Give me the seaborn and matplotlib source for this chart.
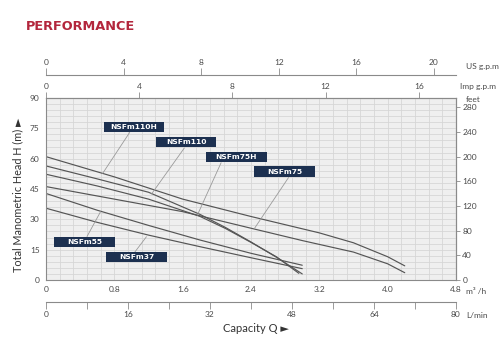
import numpy as np
import pandas as pd
import seaborn as sns
import matplotlib.pyplot as plt
from matplotlib.patches import Rectangle

# pump curves: capacity in m3/h, head in m
q_110h = [0, 0.8, 1.6, 2.4, 3.2, 3.6, 4.0, 4.2]
h_110h = [61, 51, 40, 31.4, 23.3, 18.4, 11.5, 7.0]

q_110 = [0, 0.6, 1.2, 1.8, 2.1, 2.4, 2.7, 3.0]
h_110 = [56.4, 50.0, 43.4, 32.5, 26.0, 18.8, 11.2, 3.0]

q_75h = [0, 0.6, 1.2, 1.8, 2.1, 2.4, 2.7, 2.96]
h_75h = [52.3, 46.5, 40.0, 31.5, 25.5, 18.6, 11.4, 3.3]

q_75 = [0, 0.8, 1.6, 2.4, 3.0, 3.6, 4.0, 4.2]
h_75 = [46.2, 40.0, 33.8, 25.6, 19.5, 13.8, 8.0, 3.6]

q_55 = [0, 0.6, 1.2, 1.8, 2.4, 3.0]
h_55 = [42.8, 34.5, 27.0, 19.8, 13.2, 7.3]

q_37 = [0, 0.6, 1.2, 1.8, 2.4, 3.0]
h_37 = [35.5, 28.5, 22.2, 16.5, 11.0, 5.6]

models = ['NSFm110H', 'NSFm110', 'NSFm75H', 'NSFm75', 'NSFm55', 'NSFm37']
curves_q = [q_110h, q_110, q_75h, q_75, q_55, q_37]
curves_h = [h_110h, h_110, h_75h, h_75, h_55, h_37]

# label box centres and pointer (box end -> curve point)
label_pos = [(1.03, 75.7), (1.64, 68.2), (2.23, 60.8), (2.79, 53.6), (0.45, 18.8), (1.06, 11.4)]
pointer_from = [(0.98, 73.0), (1.62, 65.3), (2.05, 58.0), (2.84, 50.7), (0.48, 21.5), (1.00, 11.6)]
pointer_to = [(0.663, 52.7), (1.235, 42.5), (1.772, 32.1), (2.442, 25.6), (0.639, 33.8), (1.176, 21.4)]

m3h_ticks = [0, 0.8, 1.6, 2.4, 3.2, 4.0, 4.8]
m3h_labels = ['0', '0.8', '1.6', '2.4', '3.2', '4.0', '4.8']
head_ticks = [0, 15, 30, 45, 60, 75, 90]
feet_ticks = [0, 40, 80, 120, 160, 200, 240, 280]
imp_ticks = [0, 4, 8, 12, 16]
us_ticks = [0, 4, 8, 12, 16, 20]
lmin_ticks = [0, 16, 32, 48, 64, 80]

IMP = 3.6662   # imp gpm per m3/h
US = 4.4029    # us gpm per m3/h
LMIN = 16.6667 # l/min per m3/h
FT = 3.28084

sns.set_style('white')
plt.rcParams['font.family'] = ['Lato', 'DejaVu Sans']

txt = '#4a4a4a'
line_c = '#555555'
axis_c = '#8a8a8a'
navy = '#1c3050'

fig = plt.figure(figsize=(5, 3.56), dpi=100)
ax = fig.add_axes([0.092, 0.2135, 0.82, 0.5112])
ax.set_facecolor('#efefef')

rows = []
for name, qs, hs in zip(models, curves_q, curves_h):
    for a, b in zip(qs, hs):
        rows.append((name, a, b))
df = pd.DataFrame(rows, columns=['model', 'q', 'h'])
for name in models:
    sub = df[df.model == name]
    sns.lineplot(data=sub, x='q', y='h', ax=ax, color=line_c, lw=0.85,
                 sort=False, estimator=None)

ax.set_xlim(0, 4.8)
ax.set_ylim(0, 90)

# grid
ax.set_xticks(np.arange(0, 4.81, 0.16), minor=True)
ax.set_yticks(np.arange(0, 90.1, 3), minor=True)
ax.grid(which='both', color='#d6d6d6', lw=0.6)
ax.set_axisbelow(True)
ax.tick_params(which='minor', length=0)

ax.set_xticks(m3h_ticks)
ax.set_xticklabels(m3h_labels)
ax.set_yticks(head_ticks)
ax.tick_params(which='major', labelsize=6, colors=axis_c, labelcolor=txt,
               length=3, width=0.6, pad=1.5)
ax.set_xlabel('')
ax.set_ylabel('')
for s in ax.spines.values():
    s.set_color(axis_c)
    s.set_linewidth(0.8)

# right: feet
ax_ft = ax.secondary_yaxis('right', functions=(lambda m: m * FT, lambda f: f / FT))
ax_ft.set_yticks(feet_ticks)
ax_ft.tick_params(labelsize=6, colors=axis_c, labelcolor=txt, length=3, width=0.6, pad=1.5)
ax_ft.spines['right'].set_color(axis_c)
ax_ft.spines['right'].set_linewidth(0.8)

# top: imperial gpm
ax_imp = ax.secondary_xaxis('top', functions=(lambda x: x * IMP, lambda g: g / IMP))
ax_imp.set_xticks(imp_ticks)
ax_imp.tick_params(labelsize=6, colors=axis_c, labelcolor=txt, length=4, width=0.6, pad=1.5)
ax_imp.spines['top'].set_color(axis_c)

# top: US gpm
ax_us = ax.secondary_xaxis(1.126, functions=(lambda x: x * US, lambda g: g / US))
ax_us.set_xticks(us_ticks)
ax_us.tick_params(labelsize=6, colors=axis_c, labelcolor=txt, length=5, width=0.6, pad=1.5)
for s in ax_us.spines.values():
    s.set_color(axis_c)
    s.set_linewidth(0.8)

# bottom: L/min
ax_l = ax.secondary_xaxis(-0.121, functions=(lambda x: x * LMIN, lambda l: l / LMIN))
ax_l.set_xticks(lmin_ticks)
ax_l.set_xticks(np.arange(0, 81, 8), minor=True)
ax_l.tick_params(which='both', labelsize=6, colors=axis_c, labelcolor=txt, length=5,
                 width=0.6, pad=1.5)
for s in ax_l.spines.values():
    s.set_color(axis_c)
    s.set_linewidth(0.8)

# model labels
for name, (cx, cy), (fx, fy), (tx, ty) in zip(models, label_pos, pointer_from, pointer_to):
    ax.plot([fx, tx], [fy, ty], color='#9a9a9a', lw=0.6, zorder=3)
    ax.add_patch(Rectangle((cx - 0.355, cy - 2.6), 0.71, 5.2, facecolor=navy,
                           edgecolor='none', zorder=4))
    ax.text(cx, cy, name, color='white', fontsize=5.4, fontweight='bold',
            family='DejaVu Sans', ha='center', va='center', zorder=5)

# unit labels and titles
fig.text(26 / 500, 1 - 27 / 356, 'PERFORMANCE', color='#b3263c', fontsize=9.3,
         fontweight='bold', family='DejaVu Sans', ha='left', va='center')
fig.text(466 / 500, 1 - 66 / 356, 'US g.p.m', color=txt, fontsize=6, ha='left', va='center')
fig.text(460 / 500, 1 - 86 / 356, 'Imp g.p.m', color=txt, fontsize=6, ha='left', va='center')
fig.text(466 / 500, 1 - 100 / 356, 'feet', color=txt, fontsize=6, ha='left', va='center')
fig.text(466 / 500, 1 - 292 / 356, 'm\u00b3 /h', color=txt, fontsize=6, ha='left', va='center')
fig.text(466 / 500, 1 - 315 / 356, 'L/min', color=txt, fontsize=6, ha='left', va='center')
fig.text(256 / 500, 1 - 329 / 356, 'Capacity Q \u25ba', color='#333333', fontsize=8,
         ha='center', va='center')
fig.text(18 / 500, 1 - 195 / 356, 'Total Manometric Head H (m) \u25ba', color='#333333',
         fontsize=7.8, rotation=90, ha='center', va='center')

fig.savefig('out.png', dpi=100, facecolor='white')
